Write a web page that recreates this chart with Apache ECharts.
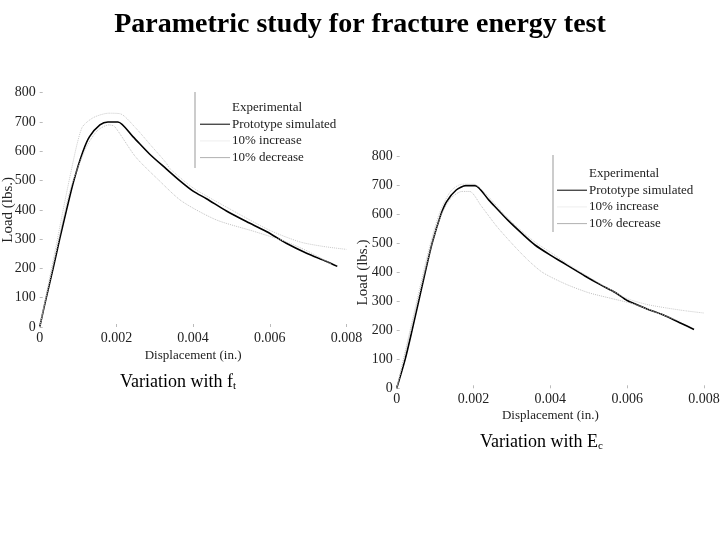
<!DOCTYPE html>
<html><head><meta charset="utf-8">
<script src="https://cdn.jsdelivr.net/npm/echarts@6/dist/echarts.min.js"></script>
<style>html,body{margin:0;padding:0;background:#fff}#c{width:720px;height:540px}</style>
</head><body><div id="c"></div>
<script>
const xTicks = [0, 0.002, 0.004, 0.006, 0.008];
const yTicks = [0, 100, 200, 300, 400, 500, 600, 700, 800];
const seriesNames = ['Experimental', 'Prototype simulated', '10% increase', '10% decrease'];

// Left panel: variation with f_t
const leftProto = [[0,0],[0.00017,100],[0.00035,200],[0.00052,300],[0.0007,400],[0.00089,500],[0.00113,600],[0.0013,650],[0.00157,690],[0.00178,700],[0.00204,700],[0.00243,650],[0.00287,590],[0.0033,540],[0.00365,500],[0.004,464],[0.00435,438],[0.00487,396],[0.00539,360],[0.00591,326],[0.00643,286],[0.00696,252],[0.00748,224],[0.00776,207]];
const leftInc = [[0,0],[0.0004,260],[0.0008,520],[0.0011,680],[0.0014,715],[0.0018,730],[0.0021,728],[0.0025,680],[0.0029,620],[0.0033,560],[0.0034,540],[0.004,475],[0.005,400],[0.006,330],[0.0068,290],[0.0074,275],[0.008,265]];
const leftDec = [[0,0],[0.0004,240],[0.0008,470],[0.0012,610],[0.0015,670],[0.0018,690],[0.00195,685],[0.0025,581],[0.0031,502],[0.0037,430],[0.0046,366],[0.0056,326],[0.0064,292],[0.007,258],[0.0076,215]];

// Right panel: variation with E_c
const rightProto = [[0,0],[0.00022,100],[0.0004,200],[0.00057,300],[0.00074,400],[0.00092,500],[0.00115,600],[0.0013,645],[0.00155,685],[0.0018,700],[0.00204,700],[0.0024,650],[0.0029,580],[0.0033,530],[0.0036,495],[0.004,460],[0.0044,428],[0.0049,388],[0.0053,358],[0.0057,330],[0.006,303],[0.0065,275],[0.007,250],[0.0074,225],[0.00774,203]];
const rightInc = [[0,0],[0.0004,230],[0.0008,460],[0.0011,600],[0.0014,680],[0.0017,705],[0.002,705],[0.0024,660],[0.0028,600],[0.0032,550],[0.0036,505],[0.004,470],[0.0045,425],[0.005,385],[0.0055,345],[0.006,310],[0.0065,290],[0.007,278],[0.0075,268],[0.008,260]];
const rightDec = [[0,0],[0.0004,220],[0.0008,440],[0.0011,580],[0.0014,655],[0.0017,680],[0.0019,680],[0.0022,630],[0.0026,560],[0.003,500],[0.0034,445],[0.0038,400],[0.0044,360],[0.005,330],[0.0056,310],[0.0062,290],[0.0068,260],[0.0074,230]];

const FONT = '"Liberation Serif", "DejaVu Serif", serif';
const chart = echarts.init(document.getElementById('c'));

function xAxis(gi, gap) {
  return {
    type: 'value', gridIndex: gi, min: xTicks[0], max: xTicks[xTicks.length-1], interval: xTicks[1]-xTicks[0],
    name: 'Displacement (in.)', nameLocation: 'middle', nameGap: gap, nameMoveOverlap: false,
    nameTextStyle: {fontFamily: FONT, fontSize: 13, color: '#222'},
    axisLine: {show: false}, splitLine: {show: false},
    axisTick: {show: true, inside: true, length: 3, lineStyle: {color: '#bbb'}},
    axisLabel: {fontFamily: FONT, fontSize: 14, color: '#222', margin: 4,
      formatter: v => v === 0 ? '0' : v.toFixed(3)}
  };
}
function yAxis(gi, gap) {
  return {
    type: 'value', gridIndex: gi, min: yTicks[0], max: yTicks[yTicks.length-1], interval: yTicks[1]-yTicks[0],
    name: 'Load (lbs.)', nameLocation: 'middle', nameGap: gap, nameMoveOverlap: false,
    nameTextStyle: {fontFamily: FONT, fontSize: 15, color: '#222'},
    axisLine: {show: false}, splitLine: {show: false},
    axisTick: {show: true, inside: true, length: 3, lineStyle: {color: '#bbb'}},
    axisLabel: {fontFamily: FONT, fontSize: 14, color: '#222', margin: 4}
  };
}
function mkSeries(gi, proto, inc, dec) {
  return [
    {name: seriesNames[0], type: 'line', xAxisIndex: gi, yAxisIndex: gi, data: [], showSymbol: false,
      lineStyle: {color: '#ffffff', width: 1}, itemStyle: {color: '#ffffff'}},
    {name: seriesNames[1], type: 'line', xAxisIndex: gi, yAxisIndex: gi, data: proto, showSymbol: false, smooth: 0.25,
      lineStyle: {color: '#000', width: 1.6}, itemStyle: {color: '#000'}},
    {name: seriesNames[2], type: 'line', xAxisIndex: gi, yAxisIndex: gi, data: inc, showSymbol: false, smooth: 0.25,
      lineStyle: {color: '#c8c8c8', width: 1, type: 'dotted'}, itemStyle: {color: '#eeeeee'}},
    {name: seriesNames[3], type: 'line', xAxisIndex: gi, yAxisIndex: gi, data: dec, showSymbol: false, smooth: 0.25,
      lineStyle: {color: '#c0c0c0', width: 1, type: 'dotted'}, itemStyle: {color: '#b0b0b0'}}
  ];
}
function legend(gi, left, top) {
  return {
    data: seriesNames, orient: 'vertical', left: left, top: top, itemWidth: 30, itemHeight: 14, itemGap: 3.7,
    icon: 'path://M0,7L30,7L30,8L0,8Z', selectedMode: false,
    textStyle: {fontFamily: FONT, fontSize: 13, color: '#222', padding: [0,0,0,-3]},
    formatter: n => n
  };
}

chart.setOption({
  animation: false,
  backgroundColor: '#fff',
  title: {text: 'Parametric study for fracture energy test', left: 'center', top: 6,
    textStyle: {fontFamily: FONT, fontSize: 28, fontWeight: 'bold', color: '#000'}},
  grid: [
    {left: 39.7, right: 373.5, top: 92.7, bottom: 213, containLabel: false, outerBoundsMode: 'none'},
    {left: 396.7, right: 16, top: 156.7, bottom: 151.7, containLabel: false, outerBoundsMode: 'none'}
  ],
  xAxis: [xAxis(0, 22), xAxis(1, 21)],
  yAxis: [yAxis(0, 24), yAxis(1, 26)],
  legend: [legend(0, 195, 96), legend(1, 552, 162)],
  series: [].concat(mkSeries(0, leftProto, leftInc, leftDec), mkSeries(1, rightProto, rightInc, rightDec)),
  graphic: [
    {type: 'line', shape: {x1: 195, y1: 92, x2: 195, y2: 168}, style: {stroke: '#999', lineWidth: 1}},
    {type: 'line', shape: {x1: 553, y1: 155, x2: 553, y2: 232}, style: {stroke: '#999', lineWidth: 1}},
    {type: 'text', left: 120, top: 373, style: {
      text: '{a|Variation with f}{s|t}',
      rich: {a: {fontFamily: FONT, fontSize: 18, fill: '#000'}, s: {fontFamily: FONT, fontSize: 11, fill: '#000', padding: [9,0,0,0]}}}},
    {type: 'text', left: 480, top: 433, style: {
      text: '{a|Variation with E}{s|c}',
      rich: {a: {fontFamily: FONT, fontSize: 18, fill: '#000'}, s: {fontFamily: FONT, fontSize: 11, fill: '#000', padding: [9,0,0,0]}}}}
  ]
});
</script></body></html>
